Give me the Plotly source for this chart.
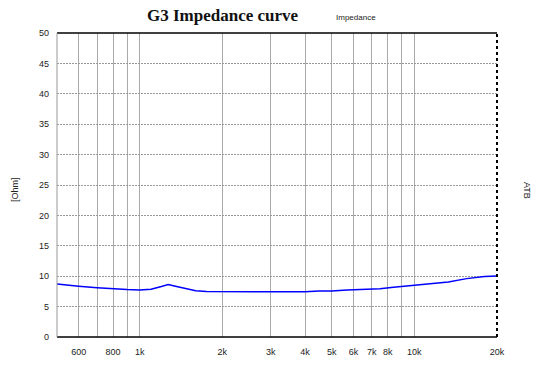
import plotly.graph_objects as go

freq = [500, 550, 600, 700, 800, 900, 1000, 1100, 1200, 1270, 1350, 1480, 1600, 1750, 2000,
        3000, 4000, 4500, 5000, 5700, 6700, 7500, 8400, 9000, 10000, 12000, 13300, 15500, 18000, 20000]
impedance = [8.7, 8.5, 8.35, 8.12, 7.9, 7.8, 7.75, 7.85, 8.3, 8.62, 8.35, 7.95, 7.6, 7.47, 7.45,
             7.45, 7.45, 7.55, 7.58, 7.75, 7.8, 7.95, 8.2, 8.32, 8.5, 8.8, 9.05, 9.6, 9.95, 10.05]

x_grid = [600, 700, 800, 900, 1000, 2000, 3000, 4000, 5000, 6000, 7000, 8000, 9000, 10000, 20000]
x_text = ["600", "", "800", "", "1k", "2k", "3k", "4k", "5k", "6k", "7k", "8k", "", "10k", "20k"]
y_ticks = [0, 5, 10, 15, 20, 25, 30, 35, 40, 45, 50]

W, H = 540, 378
l, r, t, b = 57, 43, 33, 41
pw, ph = W - l - r, H - t - b


def px(x):
    return (x - l) / pw


def py(y):
    return 1 - (y - t) / ph


fig = go.Figure()
fig.add_trace(go.Scatter(x=freq, y=impedance, mode="lines",
                         line=dict(color="#0000ff", width=1.5), showlegend=False))

fig.update_layout(
    width=W, height=H,
    margin=dict(l=l, r=r, t=t, b=b, autoexpand=False),
    paper_bgcolor="white", plot_bgcolor="white",
    font=dict(family="Liberation Sans, Arial", size=9, color="#222"),
    xaxis=dict(type="log", range=[2.699, 4.30103], tickvals=x_grid, ticktext=x_text,
               showgrid=True, gridcolor="#aaaaaa", gridwidth=1, zeroline=False,
               showline=False, ticks="", ticklabelstandoff=8),
    yaxis=dict(range=[0, 50], tickvals=y_ticks, showgrid=True, gridcolor="#999",
               griddash="2px,1px", gridwidth=1, zeroline=False, showline=False,
               ticks="", ticklabelstandoff=7),
    annotations=[
        dict(text="<b>G3 Impedance curve</b>", x=px(223), y=py(15), xref="paper", yref="paper",
             showarrow=False, font=dict(family="Liberation Serif, Times New Roman", size=17, color="#111"),
             xanchor="center", yanchor="middle"),
        dict(text="Impedance", x=px(356), y=py(17), xref="paper", yref="paper", showarrow=False,
             font=dict(size=8, color="#222"), xanchor="center", yanchor="middle"),
        dict(text="[Ohm]", x=px(15), y=py(190), xref="paper", yref="paper", showarrow=False,
             textangle=-90, font=dict(size=9, color="#222"), xanchor="center", yanchor="middle"),
        dict(text="ATB", x=px(527), y=py(190), xref="paper", yref="paper", showarrow=False,
             textangle=90, font=dict(size=9, color="#222"), xanchor="center", yanchor="middle"),
    ],
)

fig.add_shape(type="line", xref="paper", yref="paper", x0=0, x1=1, y0=1, y1=1,
              line=dict(color="black", width=1.5))
fig.add_shape(type="line", xref="paper", yref="paper", x0=0, x1=1, y0=0, y1=0,
              line=dict(color="black", width=1.5))
fig.add_shape(type="line", xref="paper", yref="paper", x0=1, x1=1, y0=0, y1=1,
              line=dict(color="black", width=2, dash="dot"))
fig.add_shape(type="line", xref="paper", yref="paper", x0=0, x1=0, y0=0, y1=1,
              line=dict(color="#999", width=1))

fig.write_html("out.html", config={"displayModeBar": False},
               post_script="document.body.style.margin='0';document.body.style.overflow='hidden';")
